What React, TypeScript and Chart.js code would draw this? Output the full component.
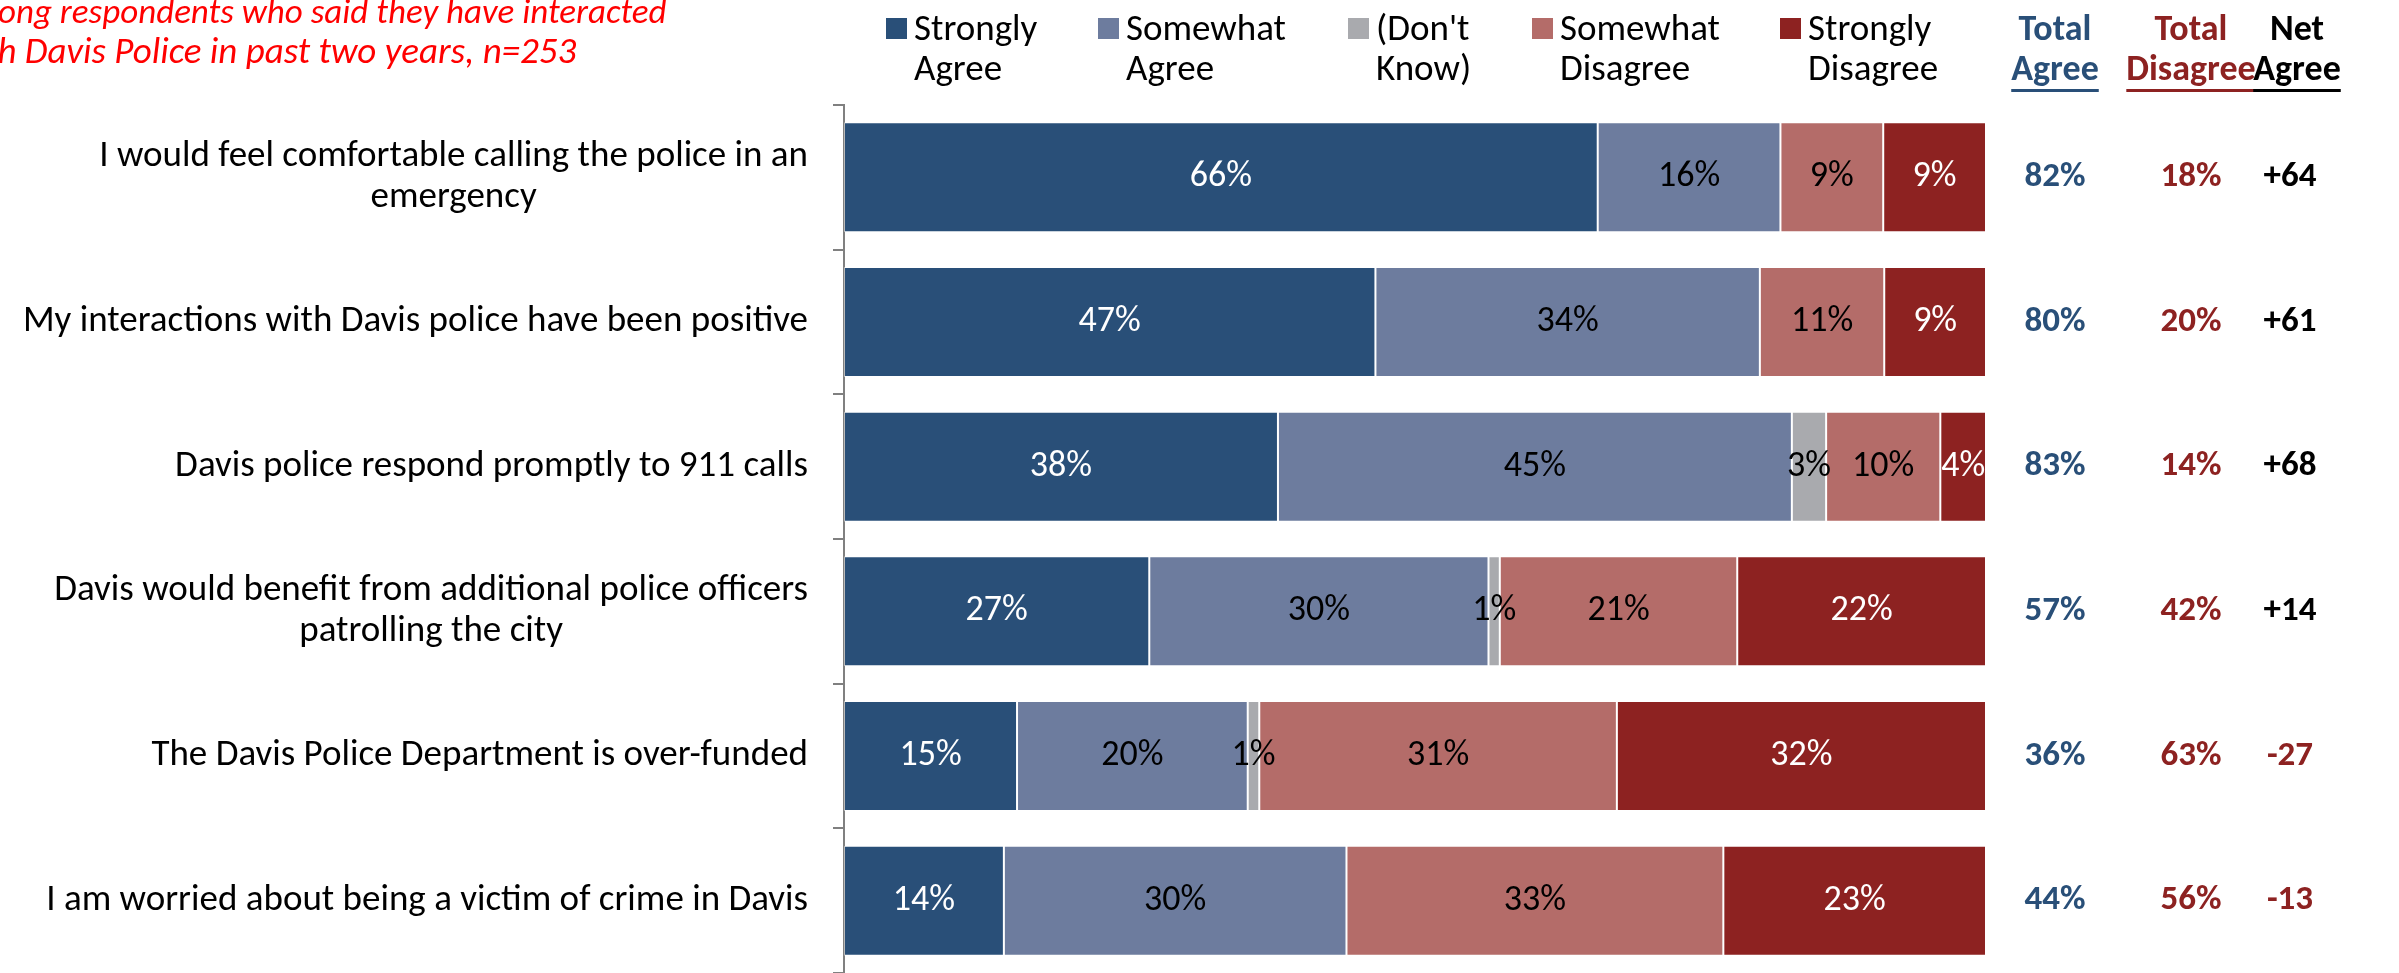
import React, { useEffect, useRef } from "react";
import { Chart, registerables } from "chart.js";
Chart.register(...registerables);

const categories: string[][] = [
  ["I would feel comfortable calling the police in an", "emergency"],
  ["My interactions with Davis police have been positive"],
  ["Davis police respond promptly to 911 calls"],
  ["Davis would benefit from additional police officers", "patrolling the city"],
  ["The Davis Police Department is over-funded"],
  ["I am worried about being a victim of crime in Davis"],
];
const seriesNames: string[][] = [
  ["Strongly", "Agree"],
  ["Somewhat", "Agree"],
  ["(Don't", "Know)"],
  ["Somewhat", "Disagree"],
  ["Strongly", "Disagree"],
];
const stronglyAgree = [66, 47, 38, 27, 15, 14];
const somewhatAgree = [16, 34, 45, 30, 20, 30];
const dontKnow = [0, 0, 3, 1, 1, 0];
const somewhatDisagree = [9, 11, 10, 21, 31, 33];
const stronglyDisagree = [9, 9, 4, 22, 32, 23];
const totalAgree = [82, 80, 83, 57, 36, 44];
const totalDisagree = [18, 20, 14, 42, 63, 56];
const netAgree = [64, 61, 68, 14, -27, -13];
const titleLines = [
  "Among respondents who said they have interacted",
  "with Davis Police in past two years, n=253",
];
const summaryHeaders: string[][] = [
  ["Total", "Agree"],
  ["Total", "Disagree"],
  ["Net", "Agree"],
];

const seriesColors = ["#294F78", "#6D7C9E", "#A9AAAE", "#B46C69", "#8D2221"];
const labelColors = ["#FFFFFF", "#000000", "#000000", "#000000", "#FFFFFF"];
const BLUE = "#294F78";
const RED = "#8D2221";
const FONT = "Carlito, 'Open Sans', sans-serif";

const allSeries = [stronglyAgree, somewhatAgree, dontKnow, somewhatDisagree, stronglyDisagree];

export default function App() {
  const ref = useRef<HTMLCanvasElement | null>(null);

  useEffect(() => {
    const canvas = ref.current;
    if (!canvas) return;
    const rowSums = categories.map((_, j) => allSeries.reduce((a, s) => a + s[j], 0));

    const overlay = {
      id: "overlay",
      afterDraw(chart: any) {
        const ctx = chart.ctx as CanvasRenderingContext2D;
        const yScale = chart.scales.y;
        ctx.save();

        // Title (clipped at left like the reference)
        ctx.fillStyle = "#FF0000";
        ctx.textBaseline = "middle";
        ctx.textAlign = "left";
        ctx.font = `italic 35px ${FONT}`;
        const tx = -ctx.measureText("Am").width - 2;
        ctx.fillText(titleLines[0], tx, 14);
        ctx.font = `italic 37px ${FONT}`;
        ctx.fillText(titleLines[1], tx, 54);

        // Legend
        const legendSq = [886, 1098, 1348, 1532, 1780];
        ctx.font = `37px ${FONT}`;
        ctx.textBaseline = "alphabetic";
        seriesNames.forEach((lines, i) => {
          ctx.fillStyle = seriesColors[i];
          ctx.fillRect(legendSq[i], 18, 21, 21);
          ctx.fillStyle = "#000000";
          ctx.fillText(lines[0], legendSq[i] + 28, 40);
          ctx.fillText(lines[1], legendSq[i] + 28, 80);
        });

        // Category labels
        ctx.font = `37px ${FONT}`;
        ctx.textBaseline = "middle";
        ctx.textAlign = "center";
        ctx.fillStyle = "#000000";
        categories.forEach((lines, j) => {
          const cy = yScale.getPixelForValue(j);
          const maxW = Math.max(...lines.map((l) => ctx.measureText(l).width));
          const cx = 808 - maxW / 2;
          const lh = 41;
          lines.forEach((l, k) => {
            ctx.fillText(l, cx, cy + (k - (lines.length - 1) / 2) * lh);
          });
        });

        // Data labels on segments
        ctx.font = `36px ${FONT}`;
        allSeries.forEach((s, i) => {
          const meta = chart.getDatasetMeta(i);
          meta.data.forEach((el: any, j: number) => {
            if (s[j] <= 0) return;
            const cx = (el.x + el.base) / 2;
            ctx.fillStyle = labelColors[i];
            ctx.fillText(`${s[j]}%`, cx, el.y);
          });
        });

        // Summary columns
        const colX = [2055, 2191, 2297];
        const valX = [2055, 2191, 2290];
        const headColors = [BLUE, RED, "#000000"];
        ctx.font = `bold 36px ${FONT}`;
        summaryHeaders.forEach((h, c) => {
          ctx.fillStyle = headColors[c];
          ctx.textBaseline = "alphabetic";
          ctx.fillText(h[0], colX[c], 40);
          ctx.fillText(h[1], colX[c], 80);
          const w = ctx.measureText(h[1]).width;
          ctx.fillRect(colX[c] - w / 2, 89, w, 3);
        });
        ctx.font = `bold 35px ${FONT}`;
        ctx.textBaseline = "middle";
        categories.forEach((_, j) => {
          const cy = yScale.getPixelForValue(j);
          ctx.fillStyle = BLUE;
          ctx.fillText(`${totalAgree[j]}%`, valX[0], cy);
          ctx.fillStyle = RED;
          ctx.fillText(`${totalDisagree[j]}%`, valX[1], cy);
          const n = netAgree[j];
          ctx.fillStyle = n < 0 ? RED : "#000000";
          ctx.fillText(n > 0 ? `+${n}` : `${n}`, valX[2], cy);
        });

        ctx.restore();
      },
    };

    const chart = new Chart(canvas, {
      type: "bar",
      data: {
        labels: categories.map((c) => c.join(" ")),
        datasets: allSeries.map((s, i) => ({
          label: seriesNames[i].join(" "),
          data: s.map((v, j) => (v / rowSums[j]) * 100),
          backgroundColor: seriesColors[i],
          borderColor: "rgba(255,255,255,0.45)",
          borderWidth: 1,
          borderSkipped: false,
          barPercentage: 0.76,
          categoryPercentage: 1.0,
        })),
      },
      options: {
        indexAxis: "y",
        responsive: false,
        animation: false,
        devicePixelRatio: 1,
        layout: { padding: { top: 105, right: 413, bottom: 0, left: 0 } },
        plugins: { legend: { display: false }, title: { display: false }, tooltip: { enabled: false } },
        scales: {
          x: { stacked: true, display: false, min: 0, max: 100 },
          y: {
            stacked: true,
            afterFit: (s: any) => {
              s.width = 844;
            },
            ticks: { display: false },
            grid: {
              display: true,
              drawOnChartArea: false,
              drawTicks: true,
              tickLength: 11,
              color: "#808080",
              lineWidth: 2,
              offset: true,
            },
            border: { display: true, color: "#808080", width: 2 },
          },
        },
      },
      plugins: [overlay],
    });
    return () => chart.destroy();
  }, []);

  return (
    <div style={{ position: "fixed", left: 0, top: 0, width: 2399, height: 973, background: "#fff" }}>
      <canvas ref={ref} width={2399} height={973} style={{ width: 2399, height: 973, display: "block" }} />
    </div>
  );
}
